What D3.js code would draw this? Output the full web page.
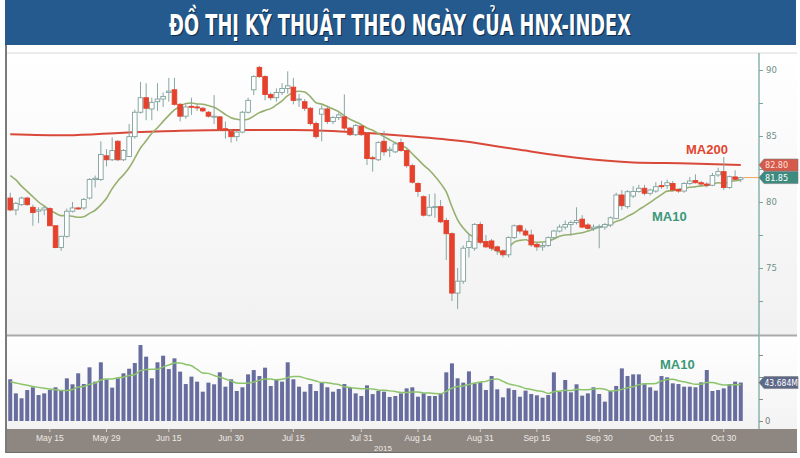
<!DOCTYPE html>
<html>
<head>
<meta charset="utf-8">
<script src="https://cdn.jsdelivr.net/npm/d3@7"></script>
<style>
body { margin: 0; background: #fff; }
svg { display: block; font-family: "Liberation Sans", Arial, sans-serif; }
</style>
</head>
<body>
<svg id="chart" width="800" height="458"></svg>
<script>
// trading days: May 6 -> Nov 4 2015, weekends and holidays skipped
var firstDay = "2015-05-06";
var lastDay = "2015-11-04";
var holidays = ["2015-09-02"];

var opens = [80.3,79.4,79.8,80.3,79.6,79.3,79.4,79.5,78.2,76.55,
	77.4,79.3,79.55,79.55,80.3,81.7,81.7,83.5,83.2,84.6,
	83.2,83.45,84.95,86.8,87.9,87.05,87.6,87.8,88.3,88.5,
	87.4,86.5,87.25,87.2,87.1,86.8,86.45,86.45,85.55,85.35,
	84.95,85.3,86.8,88.5,90.2,89.5,88.15,87.9,88.3,88.6,
	88.7,87.75,87.6,87.1,85.95,86.65,87.05,86.1,86.4,86.45,
	85.6,85.1,85.75,85.2,83.35,83.2,84.6,83.9,83.8,84.5,
	83.9,82.75,81.4,80.4,79.0,79.6,79.65,78.6,77.6,73.1,
	74.0,76.55,76.5,78.3,77.0,77.05,76.6,76.3,76.0,77.3,
	78.2,77.8,77.5,76.8,76.6,76.7,77.3,77.8,78.1,78.3,
	78.45,78.7,78.26,78.0,78.1,78.1,78.26,78.76,80.53,79.65,
	80.45,80.8,81.04,80.66,80.83,81.24,81.24,81.4,80.95,80.83,
	81.4,81.62,81.46,81.36,81.27,82.05,82.3,81.1,81.9,81.72];
var highs = [80.7,80.0,80.4,80.4,79.8,79.6,79.7,79.6,78.2,77.4,
	79.5,80.0,79.6,80.3,81.8,82.0,84.6,84.0,84.9,84.7,
	84.0,85.9,87.0,89.1,89.0,87.9,89.0,88.3,89.4,89.4,
	87.5,87.4,87.9,87.4,87.2,86.9,88.1,86.5,86.1,85.5,
	85.4,86.9,87.9,89.6,90.3,89.6,88.3,88.6,89.0,89.9,
	89.4,88.2,87.8,87.2,86.1,87.3,87.3,86.5,86.8,88.15,
	85.7,85.9,85.9,85.3,83.5,84.6,85.4,84.2,84.5,84.8,
	84.0,82.9,81.5,80.5,80.6,80.65,80.15,78.8,77.7,75.0,
	76.7,77.6,78.4,78.5,77.5,77.2,76.7,76.4,77.4,78.3,
	78.3,78.0,77.9,76.9,76.9,77.4,77.9,78.3,78.6,78.6,
	79.6,79.0,78.4,78.3,78.3,78.4,78.9,80.7,80.9,80.9,
	81.2,81.3,81.3,81.0,81.5,81.6,81.7,81.6,81.0,81.5,
	81.9,82.1,81.6,81.5,82.2,82.6,83.4,82.0,82.4,81.9];
var lows = [79.3,79.0,79.7,79.7,78.2,78.4,79.0,78.2,76.5,76.3,
	77.3,79.2,79.4,79.4,80.2,81.1,81.6,82.7,83.1,83.1,
	83.1,83.4,84.8,86.7,86.2,86.2,86.9,87.2,87.6,87.3,
	86.1,86.3,86.6,86.9,86.8,86.4,85.9,85.4,84.8,84.5,
	84.6,85.2,86.7,88.1,89.4,87.7,87.7,87.6,88.1,88.2,
	87.4,87.2,86.9,85.8,84.8,84.6,85.9,85.9,86.2,85.4,
	85.0,85.0,85.0,82.8,82.3,83.1,83.5,83.4,83.7,83.8,
	82.6,81.4,80.4,78.9,78.9,78.8,78.4,75.6,72.5,71.9,
	73.8,75.8,76.3,76.8,76.5,76.3,76.0,75.8,75.8,77.2,
	77.6,77.4,76.6,76.3,76.3,76.6,77.2,77.7,77.9,77.5,
	78.3,78.0,77.9,77.8,76.5,77.9,78.1,78.7,79.4,79.5,
	80.3,80.7,80.5,80.5,80.7,81.0,81.0,80.8,80.7,80.7,
	81.3,81.4,81.2,81.1,81.2,81.9,80.9,81.0,81.6,81.5];
var closes = [79.4,79.9,80.3,79.8,79.2,79.4,79.55,78.2,76.55,77.4,
	79.3,79.55,79.5,80.2,81.7,81.8,83.6,83.2,83.9,83.2,
	83.9,84.95,86.8,87.9,87.1,87.55,87.8,88.0,88.4,87.4,
	86.5,87.2,87.2,87.15,86.9,86.5,86.5,85.5,85.45,84.95,
	85.3,86.8,87.7,89.5,89.5,88.15,87.9,88.3,88.6,88.8,
	87.7,87.8,87.1,85.95,84.95,87.05,86.1,86.4,86.6,85.6,
	85.1,85.8,85.1,83.3,83.3,84.5,83.8,84.0,84.4,83.9,
	82.75,81.5,80.8,79.0,79.6,79.65,78.5,77.6,73.1,74.0,
	76.5,77.0,78.3,76.95,76.6,76.5,76.3,76.0,77.3,78.2,
	77.8,77.5,76.75,76.6,76.7,77.3,77.8,78.1,78.3,78.45,
	78.6,78.1,78.0,78.1,78.15,78.3,78.8,80.53,79.72,80.78,
	80.8,81.04,80.66,80.91,81.16,81.16,81.46,80.91,80.83,81.4,
	81.59,81.46,81.36,81.27,82.0,82.3,81.1,81.92,81.72,81.85];
// volume, million shares
var volumes = [47.4,31.4,25.8,35.2,38.3,29.5,31.4,35.2,38.3,34.1,
	48.5,41.7,54.2,42.0,61.0,44.7,66.7,47.4,37.9,48.5,
	54.2,59.4,65.9,86.3,73.1,48.5,66.7,74.2,59.0,71.2,
	56.1,42.0,50.4,44.7,33.3,43.6,41.7,55.3,39.0,47.4,
	34.1,38.3,53.0,57.9,51.1,60.6,39.8,46.6,44.7,66.7,
	47.4,39.0,33.3,42.0,34.1,43.6,38.3,33.3,36.4,42.0,
	38.3,31.4,28.4,40.5,30.6,34.1,33.3,27.3,28.4,
	31.4,37.1,38.3,27.6,31.4,28.4,28.4,30.7,55.3,65.5,
	48.5,43.6,56.4,42.8,43.9,35.2,51.1,36.0,26.9,37.1,
	35.2,27.6,34.5,30.7,29.2,26.5,29.5,55.3,33.3,46.6,
	32.6,41.7,28.8,31.4,38.3,30.7,22.0,34.1,39.8,59.8,
	51.1,53.0,53.0,41.7,38.3,34.5,51.1,49.6,42.8,42.0,
	39.0,39.0,38.3,43.9,57.9,34.1,35.2,37.1,42.0,44.7,
	43.684];
// MA10 of the first nine sessions needs earlier data
var ma10Lead = [82.0,81.67,81.2,80.8,80.4,80.0,79.7,79.4,79.15];
var volMa10Lead = [44.5,43.2,41.8,40.5,39.3,38.2,37.2,36.3,35.5];
var ma200Dates = ["2015-05-06","2015-05-20","2015-06-03","2015-06-17","2015-07-01","2015-07-15",
	"2015-07-29","2015-08-12","2015-08-26","2015-09-10","2015-09-24","2015-10-08","2015-10-22","2015-11-04"];
var ma200Values = [85.13,85.05,85.25,85.4,85.45,85.45,85.3,85.0,84.6,83.95,83.35,83.0,82.92,82.8];

var tickDates = ["2015-05-15","2015-05-29","2015-06-15","2015-06-30","2015-07-15","2015-07-31",
	"2015-08-14","2015-08-31","2015-09-15","2015-09-30","2015-10-15","2015-10-30"];
var tickLabels = ["May 15","May 29","Jun 15","Jun 30","Jul 15","Jul 31",
	"Aug 14","Aug 31","Sep 15","Sep 30","Oct 15","Oct 30"];
var priceTicks = [72.5,75,77.5,80,82.5,85,87.5,90];
var volTicks = [0,25,50,75];
var titleText = "ĐỒ THỊ KỸ THUẬT THEO NGÀY CỦA HNX-INDEX";

var parse = d3.timeParse("%Y-%m-%d");
var fmt = d3.timeFormat("%Y-%m-%d");
var days = d3.timeDay.range(parse(firstDay), d3.timeDay.offset(parse(lastDay), 1))
	.filter(function (d) {
		var w = d.getDay();
		return w !== 0 && w !== 6 && holidays.indexOf(fmt(d)) < 0;
	})
	.map(fmt);

var candles = days.map(function (d, i) {
	return {date: d, o: opens[i], h: highs[i], l: lows[i], c: closes[i], v: volumes[i]};
});

function movingAvg(vals, lead) {
	return vals.map(function (v, i) {
		if (i < 9) return lead[i];
		return d3.mean(vals.slice(i - 9, i + 1));
	});
}
var ma10 = movingAvg(closes, ma10Lead);
var volMa10 = movingAvg(volumes, volMa10Lead);

var svg = d3.select("#chart");
var axisX = 759;

var x = d3.scaleBand()
	.domain(days)
	.range([7.4, 743.6])
	.paddingInner(0.3)
	.paddingOuter(0.15);
function cx(d) { return x(d) + x.bandwidth() / 2; }

var yP = d3.scaleLinear().domain([70, 90]).range([334, 70]);
var yV = d3.scaleLinear().domain([0, 50]).range([421, 377]);

var defs = svg.append("defs");
var g1 = defs.append("linearGradient").attr("id", "bgMain").attr("x1", 0).attr("y1", 0).attr("x2", 0).attr("y2", 1);
g1.append("stop").attr("offset", "0%").attr("stop-color", "#ffffff");
g1.append("stop").attr("offset", "100%").attr("stop-color", "#f1f1f1");
var g2 = defs.append("linearGradient").attr("id", "bgVol").attr("x1", 0).attr("y1", 0).attr("x2", 0).attr("y2", 1);
g2.append("stop").attr("offset", "0%").attr("stop-color", "#ffffff");
g2.append("stop").attr("offset", "100%").attr("stop-color", "#f3f3f3");

// banner, title is drawn narrow and stretched to the width of the original
svg.append("rect")
	.attr("x", 5).attr("y", 0).attr("width", 791).attr("height", 45)
	.attr("fill", "#255a8e");
function titleLayer(dx, dy, color) {
	var t = svg.append("text")
		.attr("text-anchor", "middle")
		.attr("fill", color)
		.attr("font-family", "'DejaVu Sans Condensed', 'DejaVu Sans', sans-serif")
		.attr("font-weight", "bold")
		.attr("font-size", "21px")
		.text(titleText);
	var w = t.node().getComputedTextLength();
	t.attr("transform", "translate(" + (400 + dx) + "," + (35 + dy) + ") scale(" + (462 / w) + ",1.38)");
}
titleLayer(1, 1, "#102b47");
titleLayer(0, 0, "#ffffff");

// panels
svg.append("rect").attr("x", 7).attr("y", 53).attr("width", 790).attr("height", 282).attr("fill", "url(#bgMain)");
svg.append("rect").attr("x", 7).attr("y", 337).attr("width", 790).attr("height", 92).attr("fill", "url(#bgVol)");
svg.append("line").attr("x1", 7).attr("x2", 797).attr("y1", 53).attr("y2", 53).attr("stroke", "#d8d8d8");
svg.append("line").attr("x1", 7).attr("x2", 797).attr("y1", 335.5).attr("y2", 335.5).attr("stroke", "#a9a9a9").attr("stroke-width", 2);
svg.append("rect").attr("x", 6).attr("y", 429).attr("width", 791).attr("height", 23).attr("fill", "#8d8681");
svg.append("line").attr("x1", 6).attr("x2", 6).attr("y1", 45).attr("y2", 453).attr("stroke", "#7b7b7b").attr("stroke-width", 2);
svg.append("line").attr("x1", 6).attr("x2", 797).attr("y1", 452.5).attr("y2", 452.5).attr("stroke", "#6d6d6d");
svg.append("line").attr("x1", axisX).attr("x2", axisX).attr("y1", 53).attr("y2", 429).attr("stroke", "#8bb3ad").attr("stroke-width", 1.5);

// MA200
svg.append("path")
	.attr("d", d3.line()
		.x(function (d, i) { return cx(ma200Dates[i]); })
		.y(function (d) { return yP(d); })
		.curve(d3.curveMonotoneX)(ma200Values))
	.attr("fill", "none")
	.attr("stroke", "#d9493a")
	.attr("stroke-width", 2);

// MA10
svg.append("path")
	.attr("d", d3.line()
		.x(function (d, i) { return cx(days[i]); })
		.y(function (d) { return yP(d); })
		.curve(d3.curveMonotoneX)(ma10))
	.attr("fill", "none")
	.attr("stroke", "#97b06f")
	.attr("stroke-width", 1.6);

// candles
var cg = svg.append("g");
cg.selectAll("line.wick")
	.data(candles)
	.enter()
	.append("line")
	.attr("class", "wick")
	.attr("x1", function (d) { return cx(d.date); })
	.attr("x2", function (d) { return cx(d.date); })
	.attr("y1", function (d) { return yP(d.h); })
	.attr("y2", function (d) { return yP(d.l); })
	.attr("stroke", "#86a7a2")
	.attr("stroke-width", 1);
cg.selectAll("rect.body")
	.data(candles)
	.enter()
	.append("rect")
	.attr("class", "body")
	.attr("x", function (d) { return cx(d.date) - 2.3; })
	.attr("width", 4.6)
	.attr("y", function (d) { return yP(Math.max(d.o, d.c)); })
	.attr("height", function (d) { return Math.max(1, Math.abs(yP(d.o) - yP(d.c))); })
	.attr("fill", function (d) { return d.c < d.o ? "#e5412d" : "#ffffff"; })
	.attr("stroke", function (d) { return d.c < d.o ? "#e5412d" : "#7fa19c"; })
	.attr("stroke-width", 0.9);

// last price line
var last = candles[candles.length - 1];
svg.append("line")
	.attr("x1", cx(last.date) + 3).attr("x2", axisX)
	.attr("y1", yP(last.c)).attr("y2", yP(last.c))
	.attr("stroke", "#f2a35e").attr("stroke-width", 1);

// price axis
var pAxis = svg.append("g")
	.attr("transform", "translate(" + axisX + ",0)")
	.call(d3.axisRight(yP).tickValues(priceTicks).tickSize(4).tickPadding(3)
		.tickFormat(function (d) { return d % 5 === 0 ? d : ""; }));
pAxis.select(".domain").remove();
pAxis.selectAll("line").attr("stroke", "#7aa49d");
pAxis.selectAll("text").attr("fill", "#6f8f8a").attr("font-size", "8.5px").attr("font-family", "'DejaVu Sans', sans-serif");

function tag(yc, label, fill, color) {
	svg.append("path")
		.attr("d", "M" + axisX + "," + yc + "L" + (axisX + 5) + "," + (yc - 6) + "L798," + (yc - 6) + "L798," + (yc + 6) + "L" + (axisX + 5) + "," + (yc + 6) + "Z")
		.attr("fill", fill)
		.attr("stroke", "#7b7b7b")
		.attr("stroke-width", 0.6);
	svg.append("text")
		.attr("x", axisX + 6).attr("y", yc + 3.2)
		.attr("fill", color)
		.attr("font-size", "9px")
		.attr("font-family", "'DejaVu Sans Condensed', 'DejaVu Sans', sans-serif")
		.text(label);
}
tag(yP(ma200Values[ma200Values.length - 1]), d3.format(".2f")(ma200Values[ma200Values.length - 1]), "#d65a4c", "#fbe0da");
tag(yP(last.c), d3.format(".2f")(last.c), "#3d8a7f", "#ffffff");

// labels
svg.append("text").attr("x", 686).attr("y", 154).attr("fill", "#e2452f")
	.attr("font-weight", "bold").attr("font-size", "13px").text("MA200");
svg.append("text").attr("x", 652).attr("y", 221).attr("fill", "#3a9878")
	.attr("font-weight", "bold").attr("font-size", "13px").text("MA10");

// volume
svg.selectAll("rect.vol")
	.data(candles)
	.enter()
	.append("rect")
	.attr("class", "vol")
	.attr("x", function (d) { return cx(d.date) - 2; })
	.attr("width", 4)
	.attr("y", function (d) { return yV(d.v); })
	.attr("height", function (d) { return yV(0) - yV(d.v); })
	.attr("fill", "#676d9f");

svg.append("path")
	.attr("d", d3.line()
		.x(function (d, i) { return cx(days[i]); })
		.y(function (d) { return yV(d); })
		.curve(d3.curveMonotoneX)(volMa10))
	.attr("fill", "none")
	.attr("stroke", "#8cc46c")
	.attr("stroke-width", 1.5);

svg.append("text").attr("x", 660).attr("y", 369).attr("fill", "#3a9878")
	.attr("font-weight", "bold").attr("font-size", "13px").text("MA10");

var vAxis = svg.append("g")
	.attr("transform", "translate(" + axisX + ",0)")
	.call(d3.axisRight(yV).tickValues(volTicks).tickSize(4).tickPadding(2)
		.tickFormat(function (d) { return d === 0 ? "0" : ""; }));
vAxis.select(".domain").remove();
vAxis.selectAll("line").attr("stroke", "#8a8a8a");
vAxis.selectAll("text").attr("fill", "#7a7a7a").attr("font-size", "8.5px").attr("font-family", "'DejaVu Sans', sans-serif");

var lastVol = volumes[volumes.length - 1];
svg.append("path")
	.attr("d", "M" + axisX + "," + yV(lastVol) + "L" + (axisX + 5) + "," + (yV(lastVol) - 6) + "L798," + (yV(lastVol) - 6) + "L798," + (yV(lastVol) + 6) + "L" + (axisX + 5) + "," + (yV(lastVol) + 6) + "Z")
	.attr("fill", "#5e6889").attr("stroke", "#7b7b7b").attr("stroke-width", 0.6);
svg.append("text")
	.attr("x", axisX + 5.5).attr("y", yV(lastVol) + 3.2)
	.attr("fill", "#ffffff")
	.attr("font-size", "8.5px")
	.attr("font-family", "'DejaVu Sans Condensed', 'DejaVu Sans', sans-serif")
	.text(d3.format(".3f")(lastVol) + "M");

// date axis in grey band
var xa = svg.append("g").attr("class", "xlab");
xa.selectAll("line")
	.data(tickDates)
	.enter()
	.append("line")
	.attr("x1", function (d) { return cx(d); })
	.attr("x2", function (d) { return cx(d); })
	.attr("y1", 429).attr("y2", 432)
	.attr("stroke", "#d8d3ce");
xa.selectAll("text")
	.data(tickDates)
	.enter()
	.append("text")
	.attr("x", function (d) { return cx(d); })
	.attr("y", 441)
	.attr("text-anchor", "middle")
	.attr("fill", "#eeeae6")
	.attr("font-size", "8.5px")
	.text(function (d, i) { return tickLabels[i]; });
svg.append("text")
	.attr("x", 383).attr("y", 450.5)
	.attr("text-anchor", "middle")
	.attr("fill", "#eeeae6")
	.attr("font-size", "8px")
	.text("2015");
</script>
</body>
</html>
